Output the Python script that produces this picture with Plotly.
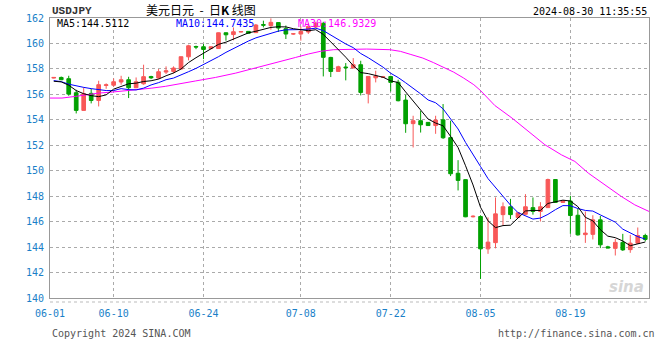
import plotly.graph_objects as go

# ---------------- data ----------------
bar_idx = list(range(80))

opens = [157.28, 157.33, 157.23, 156.13, 154.74, 156.08, 155.52, 156.70, 156.72, 156.97,
         157.15, 156.52, 156.83, 157.40, 157.28, 157.75, 157.80, 158.00, 158.95, 159.76,
         159.74, 159.60, 159.60, 160.84, 160.70, 160.90, 160.95, 160.85, 161.48, 161.40,
         161.64, 161.16, 160.74, 160.74, 160.90, 161.30, 161.58, 158.90, 157.80, 158.15,
         158.07, 158.33, 156.05, 157.30, 157.33, 157.40, 156.95, 155.55, 153.70, 153.93,
         153.80, 153.55, 154.00, 152.60, 149.80, 149.30, 146.38, 146.40, 143.86, 144.35,
         146.55, 147.17, 146.33, 146.58, 147.10, 146.80, 147.10, 149.31, 147.51, 147.62,
         146.50, 144.98, 145.00, 146.14, 144.02, 143.90, 144.37, 143.80, 144.31, 144.91]
highs = [157.36, 157.40, 157.46, 156.36, 156.55, 156.44, 157.07, 156.86, 157.25, 157.46,
         157.38, 157.33, 158.33, 157.46, 157.99, 158.20, 158.20, 158.96, 159.90, 159.83,
         159.95, 159.78, 160.86, 160.86, 161.26, 160.96, 160.96, 161.53, 161.79, 161.97,
         161.66, 161.41, 160.80, 161.33, 161.57, 161.70, 161.70, 158.95, 158.25, 158.46,
         158.85, 158.64, 157.41, 157.86, 157.45, 157.46, 157.15, 155.97, 154.32, 154.71,
         153.82, 154.32, 155.24, 153.93, 150.83, 149.32, 146.50, 146.50, 146.33, 147.90,
         147.51, 147.79, 146.72, 148.16, 147.90, 147.53, 149.38, 149.31, 147.66, 148.03,
         147.01, 146.80, 146.50, 146.45, 144.10, 144.65, 145.04, 144.96, 145.54, 145.05]
lows = [157.25, 157.12, 155.89, 154.50, 154.74, 155.29, 155.05, 156.44, 156.60, 156.76,
        155.71, 156.52, 156.76, 157.20, 157.20, 157.60, 157.65, 157.95, 158.67, 159.55,
        158.77, 159.53, 159.58, 160.22, 160.25, 160.88, 160.78, 160.82, 161.26, 161.08,
        160.90, 160.35, 160.68, 160.22, 160.75, 161.20, 157.41, 157.36, 157.80, 157.10,
        158.07, 155.92, 155.29, 156.94, 157.30, 156.23, 155.45, 152.98, 151.83, 153.00,
        153.53, 152.90, 152.50, 149.58, 148.45, 146.35, 146.33, 141.50, 143.47, 143.90,
        145.70, 146.20, 146.30, 146.55, 146.55, 146.01, 147.10, 147.51, 147.50, 145.04,
        144.90, 144.33, 144.60, 143.92, 143.92, 143.34, 143.70, 143.55, 144.25, 144.45]
closes = [157.33, 157.15, 156.02, 154.74, 156.05, 155.52, 156.76, 156.75, 156.99, 157.15,
          156.52, 156.99, 157.39, 157.30, 157.78, 157.85, 158.07, 158.96, 159.82, 159.72,
          159.53, 159.74, 160.84, 160.68, 160.92, 160.93, 160.80, 161.45, 161.44, 161.66,
          161.21, 160.74, 160.76, 160.95, 161.34, 161.60, 158.91, 157.80, 158.17, 158.10,
          158.33, 156.15, 157.41, 157.45, 157.37, 156.94, 155.50, 153.69, 153.93, 153.61,
          153.55, 153.98, 152.59, 149.76, 149.24, 146.38, 146.42, 143.86, 144.39, 146.61,
          147.17, 146.55, 146.69, 147.17, 146.80, 147.17, 149.31, 147.51, 147.64, 146.48,
          144.96, 145.10, 146.14, 144.18, 143.93, 144.37, 143.78, 144.31, 144.91, 144.60]

ma5 = [157.03, 156.98, 156.72, 156.30, 156.05, 155.90, 155.82, 155.96, 156.41, 156.63,
       156.83, 156.88, 157.01, 157.07, 157.20, 157.46, 157.68, 157.99, 158.50, 158.88,
       159.22, 159.55, 159.93, 160.10, 160.34, 160.62, 160.83, 160.96, 161.11, 161.26,
       161.31, 161.30, 161.16, 161.06, 161.00, 161.08, 160.71, 160.12, 159.56, 158.92,
       158.26, 157.71, 157.63, 157.49, 157.34, 157.06, 156.93, 156.19, 155.49, 154.73,
       154.06, 153.75, 153.53, 152.70, 151.82, 150.39, 148.88, 147.13, 146.06, 145.53,
       145.69, 145.72, 146.28, 146.84, 146.88, 146.88, 147.43, 147.59, 147.69, 147.62,
       147.18, 146.34, 146.06, 145.37, 144.86, 144.74, 144.48, 144.11, 144.26, 144.40]
ma10 = [157.08, 157.00, 156.80, 156.65, 156.55, 156.45, 156.38, 156.30, 156.30, 156.45,
        156.37, 156.35, 156.49, 156.74, 156.92, 157.15, 157.28, 157.50, 157.78, 158.04,
        158.34, 158.62, 158.96, 159.30, 159.61, 159.92, 160.19, 160.44, 160.61, 160.80,
        160.97, 161.07, 161.06, 161.09, 161.13, 161.20, 161.01, 160.64, 160.31, 159.96,
        159.67, 159.21, 158.88, 158.53, 158.13, 157.66, 157.32, 156.91, 156.49, 156.04,
        155.56, 155.34, 154.86, 154.09, 153.28, 152.22, 151.32, 150.33, 149.38, 148.68,
        148.04, 147.30, 146.71, 146.45, 146.20, 146.28, 146.57, 146.94, 147.26, 147.25,
        147.03, 146.88, 146.83, 146.53, 146.24, 145.96, 145.41, 145.09, 144.82, 144.63]
ma30_x = [-0.5, 1.1, 2.9, 4.2, 6.0, 7.8, 9.6, 11.3, 13.1, 14.9, 17.1, 18.9, 21.6, 24.3,
          26.9, 29.6, 32.3, 34.0, 35.6, 37.4, 39.6, 41.8, 44.9, 46.3, 47.6, 49.3, 50.7,
          52.1, 53.4, 54.7, 56.1, 57.0, 58.9, 61.2, 63.4, 65.6, 67.8, 69.6, 71.4, 73.6,
          75.8, 77.6, 79.5]
ma30 = [155.71, 155.71, 155.84, 155.97, 156.10, 156.18, 156.28, 156.36, 156.49, 156.63,
        156.89, 157.05, 157.33, 157.67, 158.07, 158.46, 158.90, 159.17, 159.38, 159.51,
        159.56, 159.56, 159.51, 159.38, 159.15, 158.85, 158.50, 158.10, 157.75, 157.30,
        156.76, 156.30, 155.13, 154.14, 153.09, 152.04, 151.25, 150.73, 149.81, 148.89,
        147.98, 147.32, 146.80]

tick_pos = [-0.5, 8, 20, 33, 45, 57, 69]
tick_labels = ["06-01", "06-10", "06-24", "07-08", "07-22", "08-05", "08-19"]

ma5_label = "MA5:144.5112"
ma10_label = "MA10:144.7435"
ma30_label = "MA30:146.9329"
title_text = "美元日元\u00a0\u00a0-\u00a0\u00a0日<b>K</b>\u00a0线图"
symbol = "<b>USDJPY</b>"
stamp = "2024-08-30 11:35:55"

# ---------------- styles ----------------
RED = "#f85858"
GREEN = "#00a000"
BLUE_TXT = "#1a7fc8"
MONO = "DejaVu Sans Mono"

fig = go.Figure()
fig.add_trace(go.Candlestick(
    x=bar_idx, open=opens, high=highs, low=lows, close=closes,
    increasing=dict(line=dict(color=RED, width=1), fillcolor=RED),
    decreasing=dict(line=dict(color=GREEN, width=1), fillcolor=GREEN),
    whiskerwidth=0, showlegend=False, hoverinfo="skip"))
fig.add_trace(go.Scatter(x=ma30_x, y=ma30, mode="lines",
                         line=dict(color="#ff00ff", width=1), hoverinfo="skip"))
fig.add_trace(go.Scatter(x=bar_idx, y=ma10, mode="lines",
                         line=dict(color="#0000ff", width=1), hoverinfo="skip"))
fig.add_trace(go.Scatter(x=bar_idx, y=ma5, mode="lines",
                         line=dict(color="#000000", width=1), hoverinfo="skip"))

L, R, T, B = 50, 11, 18, 62
PW, PH = 660 - L - R, 360 - T - B


def px(x):
    return (x - L) / PW


def py(y):
    return (360 - B - y) / PH


anns = [
    dict(text=symbol, x=px(50), y=py(11), xanchor="left", yanchor="middle",
         font=dict(family="Liberation Mono", size=11, color="#333333")),
    dict(text=title_text, x=px(201), y=py(9.5), xanchor="center", yanchor="middle",
         font=dict(family="Noto Sans CJK SC", size=12, color="#000000")),
    dict(text=stamp, x=px(649), y=py(11), xanchor="right", yanchor="middle",
         font=dict(family=MONO, size=10, color="#000000")),
    dict(text=ma5_label, x=px(55), y=py(23.5), xanchor="left", yanchor="middle",
         font=dict(family=MONO, size=10, color="#000000")),
    dict(text=ma10_label, x=px(174), y=py(23.5), xanchor="left", yanchor="middle",
         font=dict(family=MONO, size=10, color="#0000ff")),
    dict(text=ma30_label, x=px(296), y=py(23.5), xanchor="left", yanchor="middle",
         font=dict(family=MONO, size=10, color="#ff00ff")),
    dict(text="Copyright 2024 SINA.COM", x=px(50), y=py(333), xanchor="left",
         yanchor="middle", font=dict(family=MONO, size=10, color="#555555")),
    dict(text="http://finance.sina.com.cn", x=px(657), y=py(333), xanchor="right",
         yanchor="middle", font=dict(family=MONO, size=10, color="#555555")),
    dict(text="<b><i>sina</i></b>", x=px(646), y=py(287), xanchor="right",
         yanchor="middle", font=dict(family="DejaVu Sans", size=15, color="#d6d6d6")),
]
for a in anns:
    a.update(xref="paper", yref="paper", showarrow=False)

fig.update_layout(
    width=660, height=360,
    margin=dict(l=L, r=R, t=T, b=B, pad=0),
    paper_bgcolor="white", plot_bgcolor="white",
    showlegend=False,
    annotations=anns,
    shapes=[dict(type="line", xref="paper", yref="paper", x0=0, x1=1.0,
                 y0=py(302), y1=py(302), line=dict(color="#bbbbbb", width=1, dash="dot"))],
    xaxis=dict(range=[-0.5, 79.5], rangeslider=dict(visible=False),
               tickmode="array", tickvals=tick_pos, ticktext=tick_labels,
               showgrid=True, gridcolor="#aaaaaa", griddash="dot", gridwidth=1,
               showline=True, mirror=True, linecolor="#999999", linewidth=1,
               ticks="", zeroline=False, ticklabelstandoff=6,
               tickfont=dict(family=MONO, size=10, color=BLUE_TXT)),
    yaxis=dict(range=[140, 162], tickmode="linear", tick0=140, dtick=2,
               showgrid=True, gridcolor="#aaaaaa", griddash="dot", gridwidth=1,
               showline=True, mirror=True, linecolor="#999999", linewidth=1,
               ticks="", zeroline=False, ticklabelstandoff=3,
               tickfont=dict(family=MONO, size=10, color=BLUE_TXT)),
)

fig.write_html("out.html", config={"displayModeBar": False})
